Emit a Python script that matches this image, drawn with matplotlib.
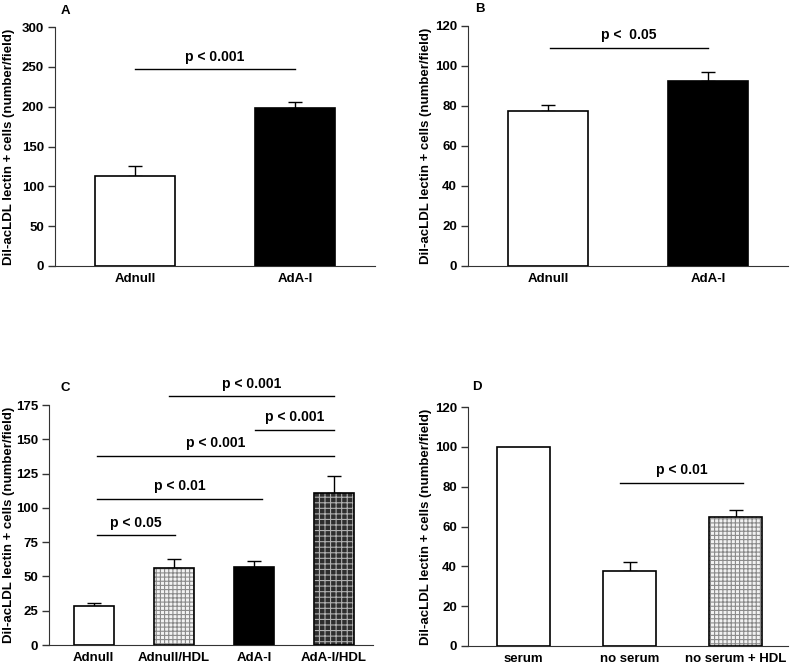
import matplotlib.pyplot as plt

plt.rcParams['font.family'] = ['Liberation Sans', 'DejaVu Sans']
plt.rcParams['font.weight'] = 'bold'
plt.rcParams['hatch.linewidth'] = 0.8

W, H = 793, 665
ylabel = "Dil-acLDL lectin + cells (number/field)"

# パネルA
a_labels = ["Adnull", "AdA-I"]
a_vals = [113, 198]
a_errs = [12, 8]

# パネルB
b_labels = ["Adnull", "AdA-I"]
b_vals = [77.5, 92.5]
b_errs = [3, 4.5]

# パネルC
c_labels = ["Adnull", "Adnull/HDL", "AdA-I", "AdA-I/HDL"]
c_vals = [28.5, 56, 57, 110.5]
c_errs = [2, 6.5, 4.5, 12.5]

# パネルD
d_labels = ["serum", "no serum", "no serum + HDL"]
d_vals = [100, 37.5, 65]
d_errs = [0, 4.5, 3.5]

# 有意差の線 (x1, x2, y, テキスト)
a_sig = [(0, 1, 247, "p < 0.001")]
b_sig = [(0.01, 1, 109, "p <  0.05")]
c_sig = [(0.04, 1.01, 80, "p < 0.05"),
         (0.04, 2.1, 106.5, "p < 0.01"),
         (0.04, 3.0, 138, "p < 0.001"),
         (2.01, 3.0, 157, "p < 0.001"),
         (0.94, 3.0, 181.5, "p < 0.001")]
d_sig = [(0.91, 2.07, 82, "p < 0.01")]

styles = {
    "white": dict(facecolor="white", edgecolor="black", hatch=None),
    "black": dict(facecolor="black", edgecolor="black", hatch=None),
    "light": dict(facecolor="#f2f2f2", edgecolor="#8a8a8a", hatch="++++"),
    "dark": dict(facecolor="#2e2e2e", edgecolor="#b0b0b0", hatch="+++"),
}

fig = plt.figure(figsize=(W / 100, H / 100), dpi=100)


def make_ax(l, r, t, b):
    return fig.add_axes([l / W, 1 - b / H, (r - l) / W, (b - t) / H])


def panel(ax, labels, vals, errs, kinds, ylim, yticks, xlim, sigs, label_x):
    x = list(range(len(vals)))
    for i in x:
        st = styles[kinds[i]]
        ax.bar(i, vals[i], width=0.5, color=st["facecolor"], edgecolor=st["edgecolor"],
               hatch=st["hatch"], linewidth=0, zorder=2)
        ax.bar(i, vals[i], width=0.5, fill=False, edgecolor="black", linewidth=1.2, zorder=3)
        if errs[i] > 0:
            ax.errorbar(i, vals[i], yerr=[[0], [errs[i]]], color="black", capsize=5,
                        elinewidth=1, capthick=1, zorder=1)
    ax.set_xlim(*xlim)
    ax.set_ylim(*ylim)
    ax.set_yticks(yticks)
    ax.set_xticks(x)
    ax.set_xticklabels(labels, fontsize=9.5, fontweight="bold")
    ax.tick_params(axis="x", length=0, pad=5)
    ax.tick_params(axis="y", length=5, width=1, labelsize=9.5, pad=3, color="#333333")
    for lab in ax.get_yticklabels():
        lab.set_fontweight("bold")
    ax.spines["top"].set_visible(False)
    ax.spines["right"].set_visible(False)
    ax.spines["left"].set_color("#333333")
    ax.spines["bottom"].set_color("#333333")
    ax.set_ylabel(ylabel, fontsize=9.5, fontweight="bold")
    ax.yaxis.set_label_coords(label_x, 0.5)
    for x1, x2, y, t in sigs:
        ax.plot([x1, x2], [y, y], color="black", linewidth=1, clip_on=False)
        ax.annotate(t, ((x1 + x2) / 2, y), xytext=(0, 4), textcoords="offset points",
                    ha="center", va="bottom", fontsize=10, fontweight="bold",
                    annotation_clip=False)


axA = make_ax(55, 375, 27, 266)
panel(axA, a_labels, a_vals, a_errs, ["white", "black"], (0, 300), range(0, 301, 50),
      (-0.5, 1.5), a_sig, -0.125)
axB = make_ax(468, 788, 26, 266)
panel(axB, b_labels, b_vals, b_errs, ["white", "black"], (0, 120), range(0, 121, 20),
      (-0.5, 1.5), b_sig, -0.1125)
axC = make_ax(49, 373, 405, 645)
panel(axC, c_labels, c_vals, c_errs, ["white", "light", "black", "dark"], (0, 175),
      range(0, 176, 25), (-0.56, 3.49), c_sig, -0.105)
axD = make_ax(468, 788, 407, 646)
panel(axD, d_labels, d_vals, d_errs, ["white", "white", "light"], (0, 120),
      range(0, 121, 20), (-0.52, 2.49), d_sig, -0.1125)

for t, x, y in [("A", 65, 11), ("B", 480, 9), ("C", 65, 388), ("D", 477, 387)]:
    fig.text(x / W, 1 - y / H, t, fontsize=9.5, fontweight="bold", ha="center", va="center")

fig.savefig("out.png", dpi=100)
